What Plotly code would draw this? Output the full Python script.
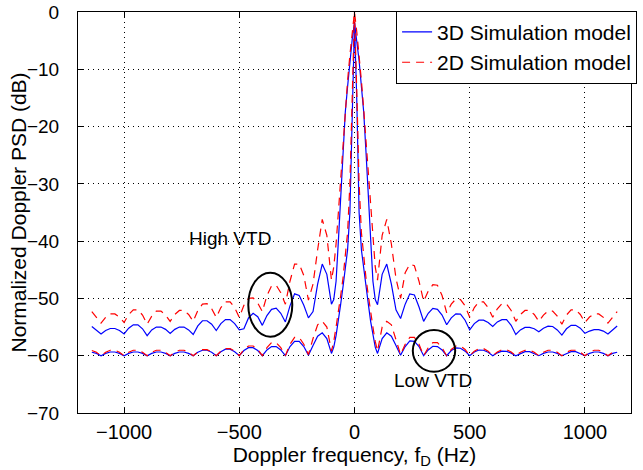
import plotly.graph_objects as go

# Frequency grid (Hz): 20 Hz steps in the sidelobes, 10 Hz steps in the main lobe
freq_hz = list(range(-1140, -100, 20)) + list(range(-100, 101, 10)) + list(range(120, 1141, 20))

# 3D simulation model, high VTD (dB)
psd_3d_high = [
    -54.9, -55.5,
    -56.2, -55.6, -55.25, -55.25, -55.6,
    -56.2, -55.2, -54.6, -54.6, -55.3,
    -56.5, -55.5, -55.0, -55.0, -55.4,
    -56.1, -55.4, -55.0, -55.0, -55.5,
    -56.3, -54.8, -53.9, -53.9, -54.5,
    -55.6, -54.4, -53.7, -53.7, -54.4,
    -55.5, -55.3, -53.4, -52.6, -53.2,
    -54.7, -53.0, -51.9, -51.7, -52.6,
    -54.1, -51.3, -49.2, -49.5, -51.2,
    -53.4, -52.3, -47.5, -44.0, -45.8,
    -51.0, -50.2, -47.0, -40.0, -32.0, -24.5, -17.5, -13.0, -8.5, -4.8,
    -1.9,
    -4.8, -8.5, -13.0, -17.5, -24.5, -32.0, -40.0, -47.0, -50.2, -51.1,
    -45.8, -44.0, -47.5, -52.0, -53.5,
    -51.0, -49.2, -49.4, -51.5, -54.0,
    -52.6, -51.75, -51.9, -52.9, -54.6,
    -53.4, -52.7, -52.75, -53.8, -55.5,
    -54.4, -53.8, -53.8, -54.2, -54.9,
    -54.1, -53.7, -53.7, -54.7, -56.3,
    -55.5, -55.05, -55.05, -55.3, -55.8,
    -55.2, -54.85, -54.9, -55.5, -56.4,
    -55.3, -54.7, -54.7, -55.2, -56.1,
    -55.7, -55.45, -55.45, -55.7, -56.2,
    -55.5, -54.8,
]

# 3D simulation model, low VTD (dB)
psd_3d_low = [
    -59.4, -59.6,
    -60.0, -59.6, -59.35, -59.35, -59.6,
    -60.0, -59.6, -59.35, -59.35, -59.6,
    -60.0, -59.6, -59.35, -59.35, -59.6,
    -60.0, -59.6, -59.35, -59.35, -59.6,
    -60.0, -59.4, -59.05, -59.05, -59.4,
    -60.0, -59.3, -58.85, -58.85, -59.3,
    -60.0, -59.1, -58.6, -58.6, -59.1,
    -60.0, -59.0, -58.4, -58.4, -59.0,
    -60.0, -58.4, -57.5, -57.5, -58.4,
    -59.9, -58.2, -56.6, -56.0, -57.0,
    -59.6, -58.5, -56.5, -54.0, -51.0, -48.0, -45.0, -41.5, -35.0, -15.5,
    -1.9,
    -15.5, -35.0, -41.5, -45.0, -48.0, -51.0, -54.0, -56.5, -58.5, -59.6,
    -57.0, -56.0, -56.6, -58.2, -59.9,
    -58.4, -57.4, -57.5, -58.4, -60.0,
    -59.0, -58.35, -58.4, -59.0, -60.0,
    -59.1, -58.65, -58.7, -59.2, -60.0,
    -59.35, -59.0, -59.05, -59.4, -60.0,
    -59.5, -59.2, -59.25, -59.55, -60.0,
    -59.6, -59.3, -59.3, -59.6, -60.0,
    -59.6, -59.35, -59.35, -59.6, -60.0,
    -59.6, -59.3, -59.3, -59.6, -60.0,
    -59.6, -59.35, -59.35, -59.6, -60.0,
    -59.6, -59.4,
]

# 2D simulation model, high VTD (dB)
psd_2d_high = [
    -52.3, -53.3,
    -54.3, -53.3, -52.7, -52.7, -53.25,
    -54.2, -52.8, -52.0, -52.0, -52.9,
    -54.5, -53.1, -52.2, -52.2, -52.9,
    -54.0, -52.8, -52.1, -52.1, -52.8,
    -54.0, -52.1, -51.0, -50.9, -51.8,
    -53.3, -51.6, -50.6, -50.6, -51.6,
    -53.3, -51.2, -50.0, -49.9, -50.8,
    -52.3, -49.5, -47.8, -47.7, -49.0,
    -51.0, -47.0, -44.0, -44.0, -46.0,
    -50.3, -47.5, -41.5, -36.2, -39.0,
    -46.8, -44.5, -40.5, -35.0, -29.0, -22.5, -17.0, -12.0, -7.5, -3.5,
    0.0,
    -3.5, -7.5, -12.0, -17.0, -22.5, -29.0, -35.0, -40.5, -44.5, -46.8,
    -39.0, -36.2, -40.5, -46.5, -50.0,
    -45.5, -44.0, -44.3, -47.0, -50.5,
    -48.7, -47.6, -47.7, -49.5, -52.5,
    -51.0, -50.1, -50.2, -51.3, -53.3,
    -51.6, -50.6, -50.6, -51.6, -53.3,
    -51.8, -50.9, -51.0, -52.1, -54.0,
    -52.8, -52.1, -52.1, -52.8, -54.0,
    -52.9, -52.2, -52.2, -53.1, -54.5,
    -52.9, -52.0, -52.0, -52.8, -54.2,
    -53.25, -52.7, -52.7, -53.3, -54.3,
    -53.3, -52.3,
]

# 2D simulation model, low VTD (dB)
psd_2d_low = [
    -59.1, -59.4,
    -60.0, -59.4, -59.05, -59.05, -59.4,
    -60.0, -59.4, -59.05, -59.05, -59.4,
    -60.0, -59.4, -59.05, -59.05, -59.4,
    -60.0, -59.4, -59.05, -59.05, -59.4,
    -60.0, -59.35, -58.95, -58.95, -59.35,
    -60.0, -59.2, -58.75, -58.75, -59.2,
    -60.0, -58.9, -58.3, -58.3, -58.9,
    -60.0, -58.6, -57.7, -57.7, -58.6,
    -60.0, -58.0, -56.8, -56.8, -58.0,
    -59.8, -57.0, -54.6, -54.0, -55.0,
    -59.2, -57.5, -55.0, -52.5, -49.5, -46.5, -43.0, -38.5, -30.0, -14.0,
    0.0,
    -14.0, -30.0, -38.5, -43.0, -46.5, -49.5, -52.5, -55.0, -57.5, -59.2,
    -55.0, -54.0, -54.6, -57.0, -59.8,
    -58.0, -56.8, -56.8, -58.0, -60.0,
    -58.6, -57.7, -57.7, -58.6, -60.0,
    -58.9, -58.3, -58.3, -58.9, -60.0,
    -59.2, -58.75, -58.75, -59.2, -60.0,
    -59.35, -58.95, -58.95, -59.35, -60.0,
    -59.4, -59.05, -59.05, -59.4, -60.0,
    -59.4, -59.05, -59.05, -59.4, -60.0,
    -59.4, -59.05, -59.05, -59.4, -60.0,
    -59.4, -59.05, -59.05, -59.4, -60.0,
    -59.4, -59.1,
]

x_ticks = [-1000, -500, 0, 500, 1000]
y_ticks = [0, -10, -20, -30, -40, -50, -60, -70]

# Annotation anchors (data coordinates)
high_vtd_ellipse = dict(x0=-461, x1=-270, y0=-56.7, y1=-45.5)
low_vtd_ellipse = dict(x0=253, x1=437, y0=-62.8, y1=-55.5)
high_vtd_label = (-541, -39.5)
low_vtd_label = (341, -64.4)

BLUE = "#0000FF"
RED = "#FF0000"
FONT = "Liberation Sans, Arial, Helvetica, sans-serif"

fig = go.Figure()
fig.add_trace(go.Scatter(x=freq_hz, y=psd_3d_high, mode="lines", name="3D Simulation model",
                         legendgroup="3d", line=dict(color=BLUE, width=1.2)))
fig.add_trace(go.Scatter(x=freq_hz, y=psd_3d_low, mode="lines", name="3D Simulation model",
                         legendgroup="3d", showlegend=False, line=dict(color=BLUE, width=1.2)))
fig.add_trace(go.Scatter(x=freq_hz, y=psd_2d_high, mode="lines", name="2D Simulation model",
                         legendgroup="2d", line=dict(color=RED, width=1.2, dash="8px,6px")))
fig.add_trace(go.Scatter(x=freq_hz, y=psd_2d_low, mode="lines", name="2D Simulation model",
                         legendgroup="2d", showlegend=False, line=dict(color=RED, width=1.2, dash="8px,6px")))

for e in (high_vtd_ellipse, low_vtd_ellipse):
    fig.add_shape(type="circle", xref="x", yref="y", line=dict(color="black", width=2), **e)

fig.add_annotation(x=high_vtd_label[0], y=high_vtd_label[1], text="High VTD", showarrow=False,
                   font=dict(size=19, color="black"))
fig.add_annotation(x=low_vtd_label[0], y=low_vtd_label[1], text="Low VTD", showarrow=False,
                   font=dict(size=19, color="black"))
# y-axis title placed as a rotated label left of the tick labels
fig.add_annotation(xref="paper", yref="paper", x=-0.1067, y=0.5, xanchor="center", yanchor="middle",
                   text="Normalized Doppler PSD (dB)", textangle=-90, showarrow=False,
                   font=dict(size=21, color="black"))

axis_common = dict(
    showline=True, linecolor="black", linewidth=1, mirror="ticks",
    ticks="inside", ticklen=5, tickcolor="black", tickwidth=1,
    showgrid=True, gridcolor="black", gridwidth=1, griddash="1px,4px",
    zeroline=False, automargin=False,
)

fig.update_layout(
    width=643, height=470,
    margin=dict(l=78, r=12, t=12, b=57, autoexpand=False),
    paper_bgcolor="white", plot_bgcolor="white",
    font=dict(family=FONT, size=20, color="black"),
    xaxis=dict(range=[-1200, 1200], tickvals=x_ticks, ticklabelstandoff=1,
               tickfont=dict(size=20, color="black"),
               title=dict(text="Doppler frequency, f<sub>D</sub> (Hz)", font=dict(size=21), standoff=2),
               **axis_common),
    yaxis=dict(range=[-70, 0], tickvals=y_ticks, ticklabelstandoff=14,
               tickfont=dict(size=19, color="black"), **axis_common),
    legend=dict(x=1.011, xanchor="right", y=1.003, yanchor="top",
                bgcolor="white", bordercolor="black", borderwidth=1,
                font=dict(size=21, color="black"), tracegroupgap=0),
    showlegend=True,
)

fig.write_html("out.html", config={"displayModeBar": False},
               post_script="document.body.style.margin='0';")
